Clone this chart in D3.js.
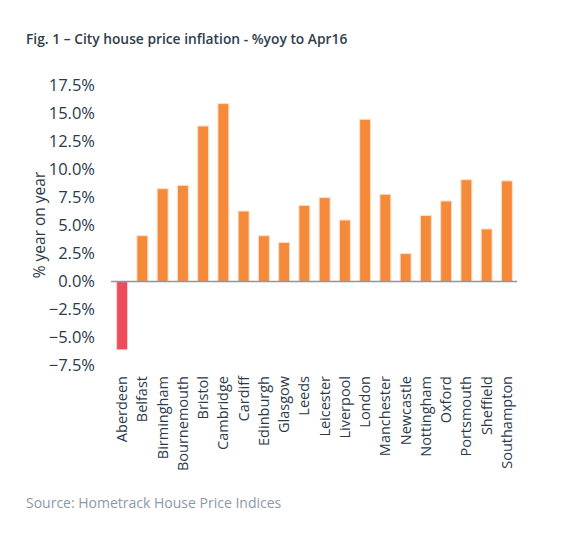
<!DOCTYPE html>
<html>
<head>
<meta charset="utf-8">
<script src="https://cdn.jsdelivr.net/npm/d3@7"></script>
<style>
  body { margin: 0; background: #fff; }
  svg text { font-family: "Open Sans", sans-serif; }
</style>
</head>
<body>
<svg id="chart"></svg>
<script>
// City house price inflation

const width = 577;
const height = 536;

const cities = ["Aberdeen", "Belfast", "Birmingham", "Bournemouth", "Bristol", "Cambridge",
    "Cardiff", "Edinburgh", "Glasgow", "Leeds", "Leicester", "Liverpool", "London",
    "Manchester", "Newcastle", "Nottingham", "Oxford", "Portsmouth", "Sheffield", "Southampton"];

const yoyValues = [-6.1, 4.1, 8.3, 8.6, 13.9, 15.9, 6.3, 4.1, 3.5, 6.8, 7.5, 5.5, 14.5,
    7.8, 2.5, 5.9, 7.2, 9.1, 4.7, 9.0];

const yTicks = [-7.5, -5, -2.5, 0, 2.5, 5, 7.5, 10, 12.5, 15, 17.5];

const titleText = "Fig. 1 – City house price inflation - %yoy to Apr16";
const sourceText = "Source: Hometrack House Price Indices";

const data = cities.map((c, i) => ({ city: c, value: yoyValues[i] }));

const svg = d3.select("#chart")
    .attr("width", width)
    .attr("height", height);

const x = d3.scaleBand()
    .domain(cities)
    .range([112, 517])
    .paddingInner(0.46)
    .paddingOuter(0.23);

const y = d3.scaleLinear()
    .domain([-7.5, 17.5])
    .range([365.5, 85.7]);

// title
svg.append("text")
    .attr("x", 26)
    .attr("y", 44)
    .style("font-size", "13.8px")
    .style("font-weight", 600)
    .attr("fill", "#2f3d4c")
    .text(titleText);

// y axis (labels only)
const yAxis = d3.axisLeft(y)
    .tickValues(yTicks)
    .tickSize(0)
    .tickPadding(0)
    .tickFormat(d => d3.format(".1f")(d) + "%");

svg.append("g")
    .attr("transform", "translate(95,0)")
    .call(yAxis)
    .call(g => g.select(".domain").remove())
    .selectAll("text")
    .style("font-size", "16.5px")
    .style("font-family", "'Open Sans', sans-serif")
    .attr("fill", "#2b3a4a");

svg.append("text")
    .attr("transform", "translate(45,225) rotate(-90)")
    .attr("text-anchor", "middle")
    .style("font-size", "15.5px")
    .attr("fill", "#2b3a4a")
    .text("% year on year");

// bars
svg.selectAll(".bar")
    .data(data)
    .enter()
    .append("rect")
    .attr("class", "bar")
    .attr("x", d => x(d.city))
    .attr("y", d => y(Math.max(0, d.value)))
    .attr("width", x.bandwidth())
    .attr("height", d => Math.abs(y(d.value) - y(0)))
    .attr("fill", d => d.value < 0 ? "#ee4b5c" : "#f58a3b")
    .attr("stroke", d => d.value < 0 ? "#fbd3d7" : "#fde0c8")
    .attr("stroke-width", 1);

// zero line
svg.append("line")
    .attr("x1", 111)
    .attr("x2", 517)
    .attr("y1", y(0))
    .attr("y2", y(0))
    .attr("stroke", "#8d97a3")
    .attr("stroke-width", 1.5);

// x axis labels
const xAxis = d3.axisBottom(x).tickSize(0).tickPadding(0);

svg.append("g")
    .attr("transform", "translate(0,376)")
    .call(xAxis)
    .call(g => g.select(".domain").remove())
    .selectAll("text")
    .style("font-size", "14.5px")
    .style("font-family", "'Open Sans', sans-serif")
    .attr("fill", "#2b3a4a")
    .attr("text-anchor", "end")
    .attr("transform", "rotate(-90)")
    .attr("x", 0)
    .attr("y", 0)
    .attr("dx", 0)
    .attr("dy", "0.35em");

// source
svg.append("text")
    .attr("x", 26)
    .attr("y", 508)
    .style("font-size", "14px")
    .attr("fill", "#8a99a9")
    .text(sourceText);
</script>
</body>
</html>
